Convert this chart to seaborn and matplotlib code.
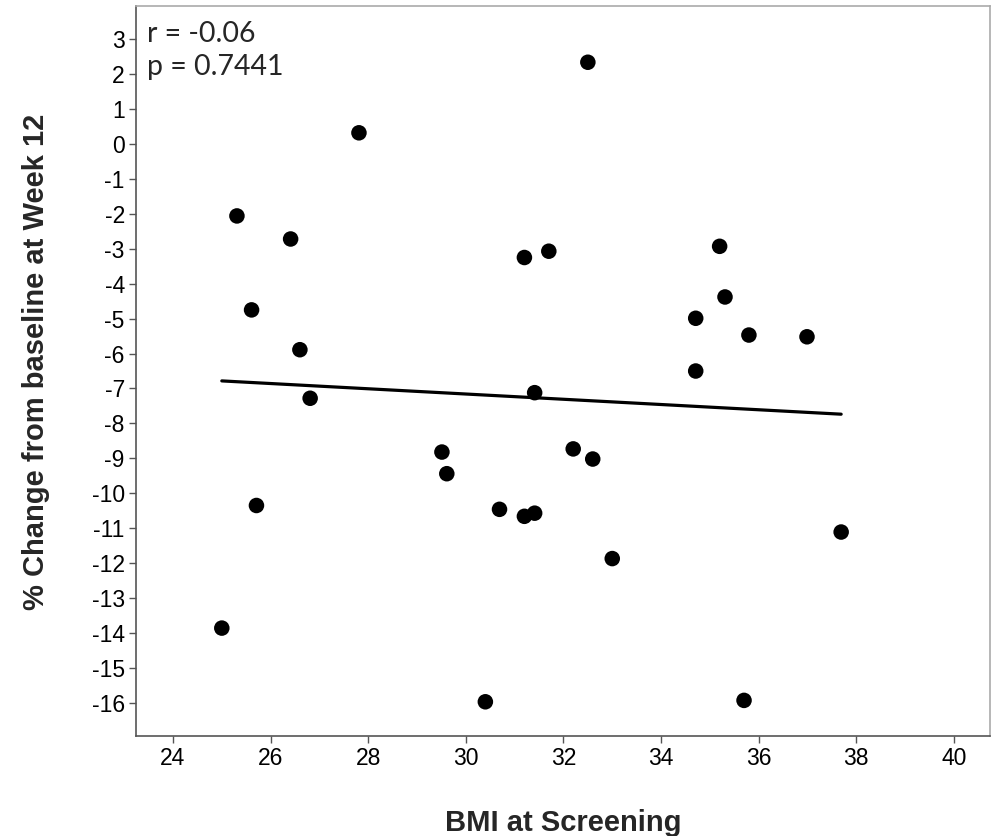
import matplotlib
matplotlib.use("Agg")
import matplotlib.pyplot as plt
import seaborn as sns
import pandas as pd

bmi = [25.0, 25.31, 25.61, 25.71, 26.41, 26.60, 26.81, 27.81, 29.51, 29.61,
       30.40, 30.69, 31.20, 31.20, 31.41, 31.41, 31.70, 32.20, 32.50, 32.60,
       33.00, 34.71, 34.71, 35.20, 35.31, 35.70, 35.80, 36.99, 37.69]
pct_change = [-13.86, -2.06, -4.75, -10.35, -2.72, -5.89, -7.28, 0.32, -8.82, -9.44,
              -15.97, -10.46, -3.25, -10.66, -7.12, -10.57, -3.07, -8.73, 2.34, -9.02,
              -11.87, -4.99, -6.50, -2.93, -4.38, -15.93, -5.47, -5.52, -11.11]
x_ticks = [24, 26, 28, 30, 32, 34, 36, 38, 40]
y_ticks = list(range(-16, 4))

df = pd.DataFrame({"BMI": bmi, "Change": pct_change})

sns.set_theme(style="white")
plt.rcParams['font.family'] = ['Liberation Sans', 'DejaVu Sans']

fig = plt.figure(figsize=(9.92, 8.36), dpi=100)
ax = fig.add_axes([0.137, 0.1196, 0.861, 0.8732])

sns.regplot(data=df, x="BMI", y="Change", ax=ax, ci=None,
            scatter_kws=dict(s=125, color="black", edgecolor="none", alpha=1),
            line_kws=dict(color="black", lw=2.3))

ax.set_xlim(23.24, 40.74)
ax.set_ylim(-16.95, 3.95)
ax.set_xticks(x_ticks)
ax.set_yticks(y_ticks)
ax.set_xticklabels([str(v) for v in x_ticks], fontsize=16.5)
ax.set_yticklabels([str(v) for v in y_ticks], fontsize=16.5)
ax.tick_params(axis="both", which="major", direction="out", length=5, width=1,
               color="#555555", labelcolor="black", left=True, bottom=True, pad=3)

for side in ["left", "bottom"]:
    ax.spines[side].set_color("#555555")
    ax.spines[side].set_linewidth(1.2)
for side in ["top", "right"]:
    ax.spines[side].set_color("#aaaaaa")
    ax.spines[side].set_linewidth(1.2)

ax.set_xlabel("BMI at Screening", fontsize=21, fontweight="bold", labelpad=28)
ax.set_ylabel("% Change from baseline at Week 12", fontsize=21, fontweight="bold", labelpad=30)
ax.yaxis.label.set_y(0.512)

ax.text(0.013, 0.962, "r = -0.06", transform=ax.transAxes, fontsize=20.5,
        family=['Lato', 'DejaVu Sans'], va="center", ha="left")
ax.text(0.013, 0.917, "p = 0.7441", transform=ax.transAxes, fontsize=20.5,
        family=['Lato', 'DejaVu Sans'], va="center", ha="left")

fig.savefig("out.png", dpi=100)
